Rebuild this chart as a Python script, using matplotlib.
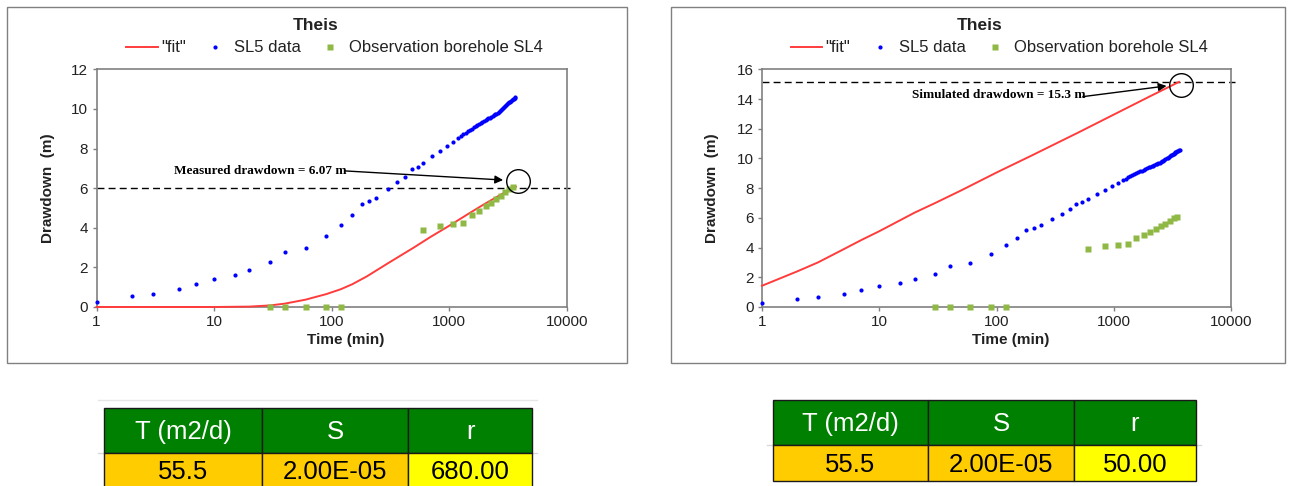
import matplotlib
matplotlib.use("Agg")
import matplotlib.pyplot as plt
from matplotlib.patches import Rectangle

plt.rcParams['font.family'] = ['Liberation Sans', 'DejaVu Sans']

# pumping well SL5 (time in min, drawdown in m)
sl5_time = [1, 2, 3, 5, 7, 10, 15, 20, 30, 40, 60, 90, 120, 150, 180, 210, 240,
            300, 360, 420, 480, 540, 600, 720, 840, 960, 1080,
            1200, 1260, 1320, 1380, 1440, 1500, 1560, 1620, 1680, 1740, 1800,
            1860, 1920, 1980, 2040, 2100, 2160, 2220, 2280, 2340, 2400, 2460,
            2520, 2580, 2640, 2700, 2760, 2820, 2880, 2940, 3000, 3060, 3120,
            3180, 3240, 3300, 3360, 3420, 3480, 3540, 3600, 3660]
sl5_drawdown = [0.27, 0.56, 0.66, 0.89, 1.16, 1.40, 1.62, 1.87, 2.25, 2.76, 2.98,
                3.57, 4.14, 4.64, 5.18, 5.35, 5.49, 5.94, 6.29, 6.58, 6.95, 7.08,
                7.29, 7.62, 7.89, 8.14, 8.35,
                8.52, 8.62, 8.72, 8.80, 8.87, 8.94, 9.01, 9.07, 9.13, 9.18, 9.23,
                9.28, 9.33, 9.39, 9.44, 9.48, 9.52, 9.56, 9.60, 9.64, 9.68, 9.72,
                9.76, 9.81, 9.86, 9.91, 9.96, 10.01, 10.06, 10.11, 10.15, 10.20, 10.25,
                10.29, 10.33, 10.37, 10.41, 10.45, 10.49, 10.52, 10.56, 10.59]

# observation borehole SL4
sl4_time = [30, 40, 60, 90, 120, 600, 840, 1080, 1320, 1560, 1800, 2040, 2280,
            2520, 2760, 3000, 3240, 3480]
sl4_drawdown = [0, 0, 0, 0, 0, 3.89, 4.08, 4.19, 4.25, 4.62, 4.86, 5.08, 5.24,
                5.44, 5.62, 5.80, 5.96, 6.07]

# Theis fit curves
fit_time_left = [1, 10, 20, 30, 40, 60, 90, 120, 150, 200, 300, 500, 700, 1000,
                 1500, 2000, 3000, 3700]
fit_left = [0, 0, 0.02, 0.08, 0.17, 0.37, 0.65, 0.90, 1.15, 1.55, 2.20, 3.00,
            3.55, 4.10, 4.75, 5.20, 5.80, 6.07]
fit_time_right = [1, 2, 3, 5, 7, 10, 20, 30, 50, 100, 200, 500, 1000, 2000, 3600]
fit_right = [1.43, 2.40, 3.00, 3.90, 4.50, 5.10, 6.35, 7.00, 7.85, 9.05, 10.20,
             11.75, 12.95, 14.15, 15.15]

table_header = ["T (m2/d)", "S", "r"]
table_left = ["55.5", "2.00E-05", "680.00"]
table_right = ["55.5", "2.00E-05", "50.00"]

RED = '#ff3c3c'
BLUE = '#0000ff'
GREEN = '#8fb944'
GRAY = '#808080'
TXT = '#222222'

fig = plt.figure(figsize=(12.92, 4.86), dpi=100)

# background layer in pixel coordinates: chart frames and tables
bg = fig.add_axes([0, 0, 1, 1])
bg.set_xlim(0, 1292)
bg.set_ylim(486, 0)
bg.axis('off')
bg.add_patch(Rectangle((7, 7), 620, 356, fill=False, ec=GRAY, lw=1))
bg.add_patch(Rectangle((671, 7), 614, 356, fill=False, ec=GRAY, lw=1))


def draw_table(xs, y0, y1, y2, values, top_grid):
    # faint spreadsheet grid
    bg.plot([xs[0] - 6, xs[-1] + 5], [y1, y1], color='#d9d9d9', lw=1, zorder=1)
    if top_grid:
        bg.plot([xs[0] - 6, xs[-1] + 5], [y0 - 8, y0 - 8], color='#e6e6e6', lw=1, zorder=1)
    for i in range(3):
        bg.add_patch(Rectangle((xs[i], y0), xs[i + 1] - xs[i], y1 - y0,
                               fc='#008000', ec='#1a1a1a', lw=1, zorder=2))
        fc = '#ffff00' if i == 2 else '#ffcc00'
        bg.add_patch(Rectangle((xs[i], y1), xs[i + 1] - xs[i], y2 - y1,
                               fc=fc, ec='#1a1a1a', lw=1, zorder=2))
        cx = (xs[i] + xs[i + 1]) / 2
        bg.text(cx, (y0 + y1) / 2 + 1, table_header[i], color='white', fontsize=18.5,
                ha='center', va='center', zorder=3)
        bg.text(cx, (y1 + min(y2, 486)) / 2 + 2, values[i], color='black', fontsize=18.5,
                ha='center', va='center', zorder=3)


draw_table([104, 262, 408, 532], 408, 453, 492, table_left, True)
draw_table([773, 928, 1074, 1196], 400, 445, 481, table_right, False)


def draw_panel(rect, fit_t, fit_s, ymax, level, note, note_xy, arrow_from, arrow_to,
               ring_xy, title_x, ylabel_x):
    ax = fig.add_axes(rect)
    ax.plot(fit_t, fit_s, color=RED, lw=1.4, label='"fit"', clip_on=False, zorder=3)
    ax.plot(sl5_time, sl5_drawdown, ls='none', marker='o', ms=3, color=BLUE,
            mec='none', label='SL5 data', clip_on=False, zorder=4)
    ax.plot(sl4_time, sl4_drawdown, ls='none', marker='s', ms=4, color=GREEN,
            mec='none', label='Observation borehole SL4', clip_on=False, zorder=4)
    ax.set_xscale('log')
    ax.set_xlim(1, 10000)
    ax.set_ylim(0, ymax)
    xt = [1, 10, 100, 1000, 10000]
    ax.set_xticks(xt, [str(t) for t in xt])
    ax.minorticks_off()
    ax.set_yticks(range(0, ymax + 1, 2))
    ax.tick_params(direction='out', length=3, width=1, color=GRAY, labelsize=11,
                   labelcolor=TXT, pad=3)
    for s in ax.spines.values():
        s.set_color(GRAY)
        s.set_linewidth(1.2)

    ax.axhline(level, xmin=0, xmax=1.008, color='black', lw=1, dashes=(5, 3),
               clip_on=False, zorder=2)
    ax.plot([ring_xy[0]], [ring_xy[1]], marker='o', ms=17, mfc='none', mec='black',
            mew=1, clip_on=False, zorder=6)
    ax.text(note_xy[0], note_xy[1], note, family='Liberation Serif', fontweight='bold',
            fontsize=9.5, ha='left', va='center', zorder=5)
    ax.annotate('', xy=arrow_to, xytext=arrow_from,
                arrowprops=dict(arrowstyle='-|>', color='black', lw=1,
                                mutation_scale=12, shrinkA=0, shrinkB=0), zorder=5)

    ax.set_xlabel('Time (min)', fontsize=11, fontweight='bold', color=TXT)
    ax.set_ylabel('Drawdown  (m)', fontsize=11, fontweight='bold', color=TXT)
    ax.xaxis.set_label_coords(0.531, -0.139)
    ax.xaxis.label.set_va('center')
    ax.yaxis.set_label_coords(ylabel_x, 0.5)
    ax.yaxis.label.set_va('center')

    leg = ax.legend(loc='center', bbox_to_anchor=(0.506, 1.09), ncol=3, frameon=False,
                    fontsize=12, handlelength=1.9, handletextpad=0.2,
                    columnspacing=0.8, borderaxespad=0)
    for t in leg.get_texts():
        t.set_color(TXT)
    fig.text(title_x / 1292, 1 - 26 / 486, 'Theis', fontsize=12.5, fontweight='bold',
             ha='center', va='center', color=TXT)
    return ax


draw_panel([96.5 / 1292, 179 / 486, 470.2 / 1292, 237.7 / 486],
           fit_time_left, fit_left, 12, 6.0, 'Measured drawdown = 6.07 m',
           (4.56, 6.88), (130, 6.87), (2878, 6.41), (3819, 6.36), 316, -0.104)
draw_panel([762 / 1292, 179 / 486, 469 / 1292, 237.7 / 486],
           fit_time_right, fit_right, 16, 15.17, 'Simulated drawdown = 15.3 m',
           (18.9, 14.27), (545, 14.16), (2819, 14.88), (3733, 14.94), 980, -0.107)

fig.savefig('out.png', dpi=100)
